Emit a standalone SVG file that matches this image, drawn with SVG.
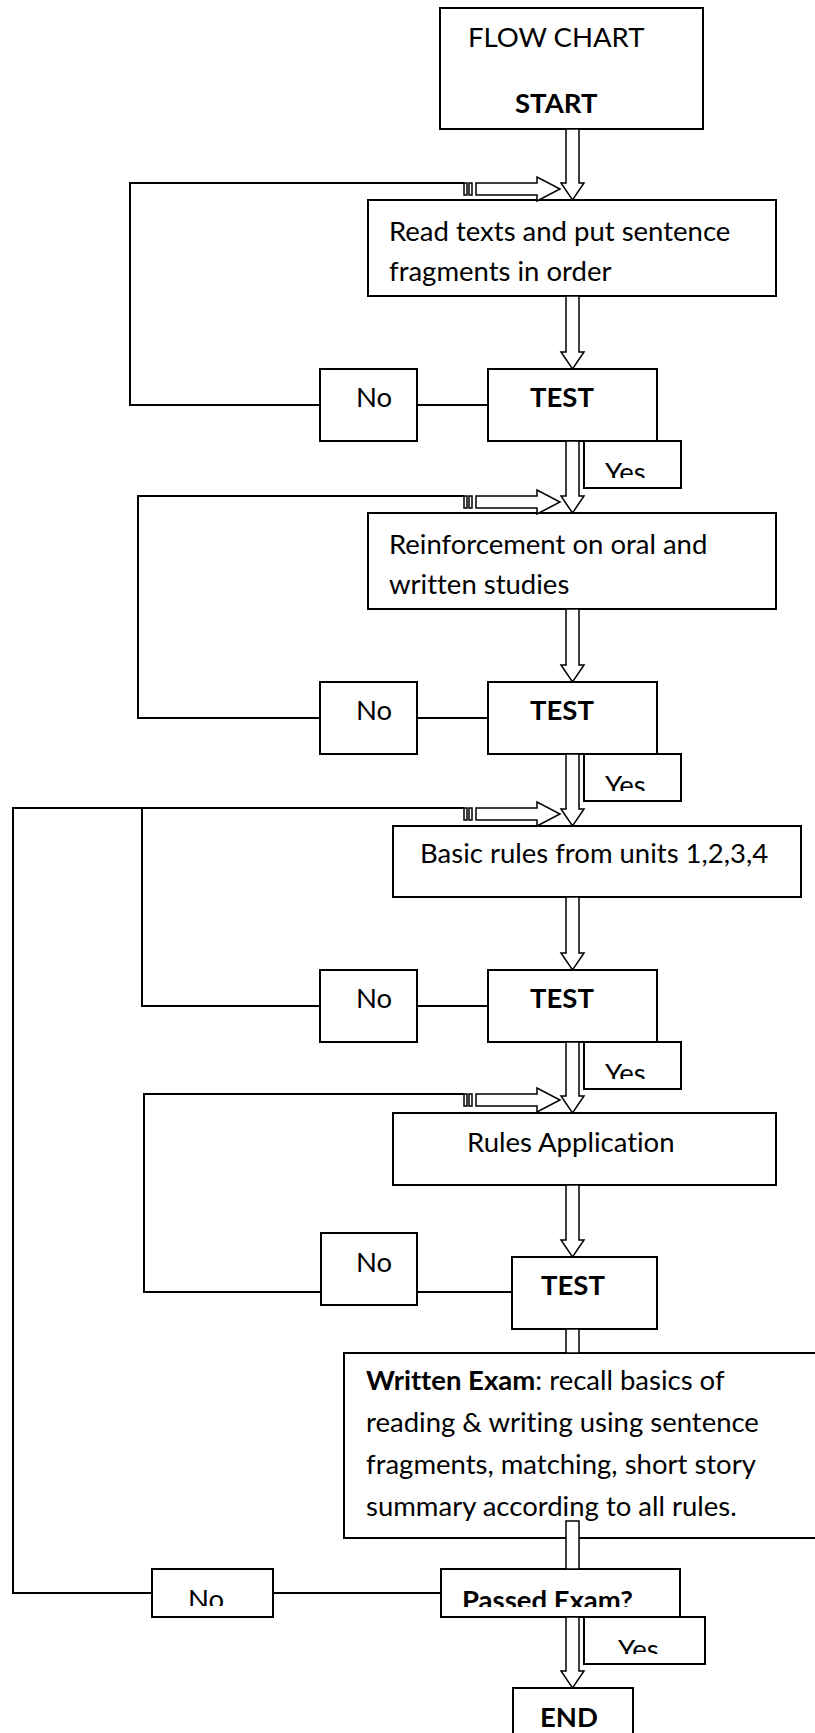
<svg xmlns="http://www.w3.org/2000/svg" width="815" height="1733" viewBox="0 0 815 1733">
<style>
.box{fill:#fff;stroke:#000;stroke-width:2}
.ln{fill:none;stroke:#000;stroke-width:2}
.arr{fill:#fff;stroke:#000;stroke-width:1.5}
text{font-family:Lato,"Open Sans","Liberation Sans",sans-serif;font-size:27.5px;fill:#000;font-variant-ligatures:none}
.b{font-weight:bold}
</style>
<defs>
<clipPath id="cy1"><rect x="584" y="441" width="97" height="37"/></clipPath>
<clipPath id="cy2"><rect x="584" y="754" width="97" height="37"/></clipPath>
<clipPath id="cy3"><rect x="584" y="1042" width="97" height="37"/></clipPath>
<clipPath id="cy5"><rect x="584" y="1617" width="121" height="37"/></clipPath>
<clipPath id="cn5"><rect x="152" y="1569" width="121" height="37"/></clipPath>
<clipPath id="cp5"><rect x="441" y="1569" width="239" height="38"/></clipPath>
</defs>
<rect width="815" height="1733" fill="#fff"/>

<g id="start"><rect class="box" x="440" y="8" width="263" height="121"/><text x="468" y="47">FLOW CHART</text><text class="b" x="515" y="113">START</text></g>

<g id="read"><rect class="box" x="368" y="200" width="408" height="96"/><text x="389" y="241">Read texts and put sentence</text><text x="389" y="281">fragments in order</text></g>
<g id="no1"><rect class="box" x="320" y="369" width="97" height="72"/><text x="356" y="407">No</text></g>
<g id="test1"><rect class="box" x="488" y="369" width="169" height="72"/><text class="b" x="530" y="407">TEST</text></g>
<g id="yes1"><rect class="box" x="584" y="441" width="97" height="47"/><text x="605" y="482" clip-path="url(#cy1)">Yes</text></g>

<g id="reinf"><rect class="box" x="368" y="513" width="408" height="96"/><text x="389" y="554">Reinforcement on oral and</text><text x="389" y="594">written studies</text></g>
<g id="no2"><rect class="box" x="320" y="682" width="97" height="72"/><text x="356" y="720">No</text></g>
<g id="test2"><rect class="box" x="488" y="682" width="169" height="72"/><text class="b" x="530" y="720">TEST</text></g>
<g id="yes2"><rect class="box" x="584" y="754" width="97" height="47"/><text x="605" y="795" clip-path="url(#cy2)">Yes</text></g>

<g id="basic"><rect class="box" x="393" y="826" width="408" height="71"/><text x="420" y="863">Basic rules from units 1,2,3,4</text></g>
<g id="no3"><rect class="box" x="320" y="970" width="97" height="72"/><text x="356" y="1008">No</text></g>
<g id="test3"><rect class="box" x="488" y="970" width="169" height="72"/><text class="b" x="530" y="1008">TEST</text></g>
<g id="yes3"><rect class="box" x="584" y="1042" width="97" height="47"/><text x="605" y="1083" clip-path="url(#cy3)">Yes</text></g>

<g id="rules"><rect class="box" x="393" y="1113" width="383" height="72"/><text x="467" y="1152">Rules Application</text></g>
<g id="no4"><rect class="box" x="321" y="1233" width="96" height="72"/><text x="356" y="1272">No</text></g>
<g id="test4"><rect class="box" x="512" y="1257" width="145" height="72"/><text class="b" x="541" y="1295">TEST</text></g>

<g id="written"><rect class="box" x="344" y="1353" width="500" height="185"/>
<text x="366" y="1390"><tspan class="b">Written Exam</tspan>: recall basics of</text>
<text x="366" y="1432">reading &amp; writing using sentence</text>
<text x="366" y="1474">fragments, matching, short story</text>
<text x="366" y="1516">summary according to all rules.</text></g>

<g id="no5"><rect class="box" x="152" y="1569" width="121" height="48"/><text x="188" y="1609" clip-path="url(#cn5)">No</text></g>
<g id="passed"><rect class="box" x="441" y="1569" width="239" height="48"/><text class="b" x="462" y="1610" clip-path="url(#cp5)">Passed Exam?</text></g>
<g id="yes5"><rect class="box" x="584" y="1617" width="121" height="47"/><text x="618" y="1659" clip-path="url(#cy5)">Yes</text></g>
<g id="end"><rect class="box" x="513" y="1688" width="120" height="60"/><text class="b" x="540" y="1727">END</text></g>

<g id="connectors">
<path class="ln" d="M464,183H130V405H320M417,405H488"/>
<path class="ln" d="M464,496H138V718H320M417,718H488"/>
<path class="ln" d="M464,808H13V1593H152M142,808V1006H320M417,1006H488M273,1593H441"/>
<path class="ln" d="M464,1094H144V1292H321M417,1292H512"/>

<g class="arr">
<rect x="464" y="183" width="3" height="12"/><rect x="469" y="183" width="3" height="12"/>
<polygon points="476,183 537,183 537,177 560,189 537,201 537,195 476,195"/>
<rect x="464" y="496" width="3" height="12"/><rect x="469" y="496" width="3" height="12"/>
<polygon points="476,496 537,496 537,490 560,502 537,514 537,508 476,508"/>
<rect x="464" y="808" width="3" height="12"/><rect x="469" y="808" width="3" height="12"/>
<polygon points="476,808 537,808 537,802 560,814 537,826 537,820 476,820"/>
<rect x="464" y="1094" width="3" height="12"/><rect x="469" y="1094" width="3" height="12"/>
<polygon points="476,1094 537,1094 537,1088 560,1100 537,1112 537,1106 476,1106"/>

<polygon points="566,129 579,129 579,183 584,183 572.5,200 561,183 566,183"/>
<polygon points="566,296 579,296 579,352 584,352 572.5,369 561,352 566,352"/>
<polygon points="566,441 579,441 579,496 584,496 572.5,513 561,496 566,496"/>
<polygon points="566,609 579,609 579,665 584,665 572.5,682 561,665 566,665"/>
<polygon points="566,754 579,754 579,809 584,809 572.5,826 561,809 566,809"/>
<polygon points="566,897 579,897 579,953 584,953 572.5,970 561,953 566,953"/>
<polygon points="566,1042 579,1042 579,1096 584,1096 572.5,1113 561,1096 566,1096"/>
<polygon points="566,1185 579,1185 579,1240 584,1240 572.5,1257 561,1240 566,1240"/>
<rect x="566" y="1329" width="13" height="24"/>
<rect x="566" y="1521" width="13" height="48"/>
<polygon points="566,1617 579,1617 579,1671 584,1671 572.5,1688 561,1671 566,1671"/>
</g>
</g>
</svg>
